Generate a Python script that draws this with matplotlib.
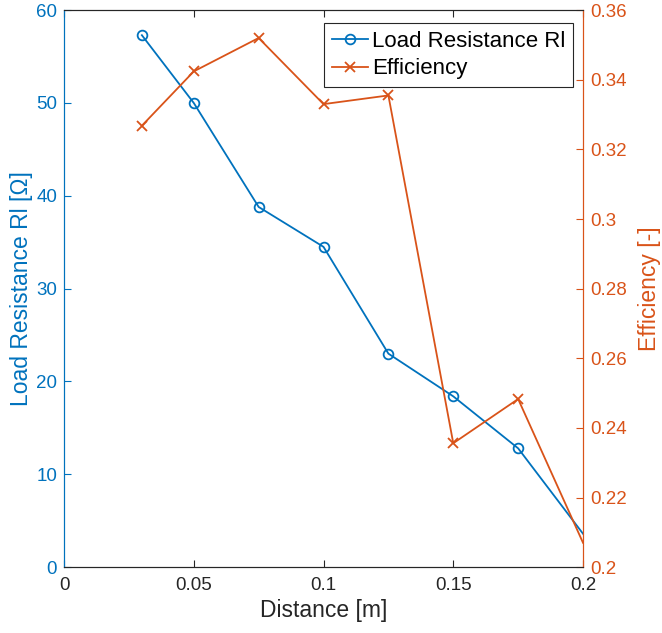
import matplotlib.pyplot as plt

distance = [0.03, 0.05, 0.075, 0.1, 0.125, 0.15, 0.175, 0.2]
load_resistance = [57.3, 50.0, 38.8, 34.5, 23.0, 18.4, 12.8, 3.6]
efficiency = [0.3268, 0.3424, 0.3520, 0.3330, 0.3355, 0.2356, 0.2483, 0.2070]

blue = '#0072BD'
orange = '#D95319'
dark = '#262626'

plt.rcParams['font.family'] = ['Liberation Sans', 'DejaVu Sans']

fig = plt.figure(figsize=(6.62, 6.33), dpi=100)
ax = fig.add_axes([0.0967, 0.104, 0.784, 0.880])
ax2 = ax.twinx()

# last point sits on the axis edge, its marker is cut off in the original
shown = list(range(len(distance) - 1))
l1, = ax.plot(distance, load_resistance, color=blue, marker='o', markersize=7,
              markerfacecolor='none', markeredgewidth=1.3, linewidth=1.3,
              markevery=shown, label='Load Resistance Rl')
l2, = ax2.plot(distance, efficiency, color=orange, marker='x', markersize=7,
               markeredgewidth=1.3, linewidth=1.3, markevery=shown,
               label='Efficiency')

ax.set_xlim(0, 0.2)
ax.set_ylim(0, 60)
ax2.set_ylim(0.2, 0.36)
ax.set_xticks([0, 0.05, 0.1, 0.15, 0.2])
ax.set_xticklabels(['0', '0.05', '0.1', '0.15', '0.2'])
ax.set_yticks([0, 10, 20, 30, 40, 50, 60])
ax2.set_yticks([0.2, 0.22, 0.24, 0.26, 0.28, 0.3, 0.32, 0.34, 0.36])
ax2.set_yticklabels(['0.2', '0.22', '0.24', '0.26', '0.28', '0.3', '0.32', '0.34', '0.36'])

ax.tick_params(axis='x', direction='in', top=True, length=5, labelsize=13.5,
               colors=dark, pad=7)
ax.tick_params(axis='y', direction='in', length=5, labelsize=13.5,
               colors=blue, pad=5)
ax2.tick_params(axis='y', direction='in', length=5, labelsize=13.5,
                colors=orange, pad=5)

for a in (ax, ax2):
    a.spines['top'].set_color(dark)
    a.spines['bottom'].set_color(dark)
    a.spines['left'].set_color(blue)
    a.spines['right'].set_color(orange)
    for s in a.spines.values():
        s.set_linewidth(0.8)

ax.set_xlabel('Distance [m]', fontsize=16.5, color=dark, labelpad=4)
ax.set_ylabel('Load Resistance Rl [Ω]', fontsize=16.5, color=blue, labelpad=2)
ax2.set_ylabel('Efficiency [-]', fontsize=16.5, color=orange, labelpad=8)

leg = ax2.legend(handles=[l1, l2], loc='upper right', bbox_to_anchor=(0.981, 0.977),
                 borderaxespad=0, fontsize=16, fancybox=False, framealpha=1,
                 edgecolor=dark, handlelength=1.6, handletextpad=0.2,
                 borderpad=0.35, labelspacing=0.3)
leg.get_frame().set_linewidth(0.8)

fig.savefig('out.png', dpi=100)
